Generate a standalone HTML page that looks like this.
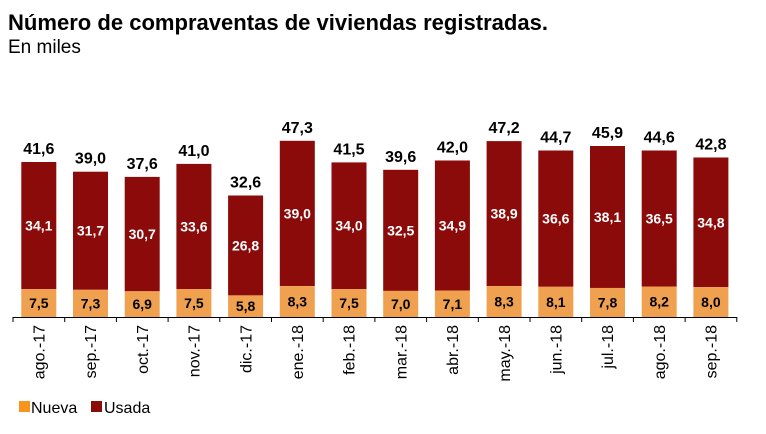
<!DOCTYPE html>
<html><head><meta charset="utf-8"><style>
body{margin:0;background:#fff;width:766px;height:429px;overflow:hidden;font-family:"Liberation Sans",sans-serif;}
</style></head><body>
<svg width="766" height="429" xmlns="http://www.w3.org/2000/svg" font-family="Liberation Sans, sans-serif">
<text x="8" y="30" font-size="22" font-weight="bold" fill="#000" textLength="540" lengthAdjust="spacingAndGlyphs">Número de compraventas de viviendas registradas.</text>
<text x="8" y="53" font-size="19" fill="#000">En miles</text>
<g fill="#8B0A0A">
<rect x="21.3" y="162" width="35" height="127"/>
<rect x="73" y="171.7" width="35" height="118.1"/>
<rect x="124.7" y="176.9" width="35" height="114.4"/>
<rect x="176.4" y="163.9" width="35" height="125.2"/>
<rect x="228.1" y="195.5" width="35" height="99.9"/>
<rect x="279.8" y="140.8" width="35" height="145.3"/>
<rect x="331.5" y="162.4" width="35" height="126.7"/>
<rect x="383.2" y="169.8" width="35" height="121.1"/>
<rect x="434.9" y="160.5" width="35" height="130"/>
<rect x="486.6" y="141.1" width="35" height="145"/>
<rect x="538.3" y="150.5" width="35" height="136.3"/>
<rect x="590" y="146" width="35" height="142"/>
<rect x="641.7" y="150.5" width="35" height="136"/>
<rect x="693.4" y="157.5" width="35" height="129.7"/>
</g>
<g fill="#F0A150">
<rect x="21.3" y="289" width="35" height="28"/>
<rect x="73" y="289.8" width="35" height="27.2"/>
<rect x="124.7" y="291.3" width="35" height="25.7"/>
<rect x="176.4" y="289" width="35" height="28"/>
<rect x="228.1" y="295.4" width="35" height="21.6"/>
<rect x="279.8" y="286.1" width="35" height="30.9"/>
<rect x="331.5" y="289" width="35" height="28"/>
<rect x="383.2" y="290.9" width="35" height="26.1"/>
<rect x="434.9" y="290.5" width="35" height="26.5"/>
<rect x="486.6" y="286.1" width="35" height="30.9"/>
<rect x="538.3" y="286.8" width="35" height="30.2"/>
<rect x="590" y="287.9" width="35" height="29.1"/>
<rect x="641.7" y="286.5" width="35" height="30.5"/>
<rect x="693.4" y="287.2" width="35" height="29.8"/>
</g>
<g font-size="16" font-weight="bold" text-anchor="middle" fill="#000">
<text x="38.8" y="154">41,6</text>
<text x="90.5" y="163.7">39,0</text>
<text x="142.2" y="168.9">37,6</text>
<text x="193.9" y="155.9">41,0</text>
<text x="245.6" y="187.5">32,6</text>
<text x="297.3" y="132.8">47,3</text>
<text x="349" y="154.4">41,5</text>
<text x="400.7" y="161.8">39,6</text>
<text x="452.4" y="152.5">42,0</text>
<text x="504.1" y="133.1">47,2</text>
<text x="555.8" y="142.5">44,7</text>
<text x="607.5" y="138">45,9</text>
<text x="659.2" y="142.5">44,6</text>
<text x="710.9" y="149.5">42,8</text>
</g>
<g font-size="14" font-weight="bold" text-anchor="middle" fill="#fff">
<text x="38.8" y="230.5">34,1</text>
<text x="90.5" y="235.7">31,7</text>
<text x="142.2" y="239.1">30,7</text>
<text x="193.9" y="231.5">33,6</text>
<text x="245.6" y="250.5">26,8</text>
<text x="297.3" y="218.4">39,0</text>
<text x="349" y="230.7">34,0</text>
<text x="400.7" y="235.4">32,5</text>
<text x="452.4" y="230.5">34,9</text>
<text x="504.1" y="218.6">38,9</text>
<text x="555.8" y="223.6">36,6</text>
<text x="607.5" y="222">38,1</text>
<text x="659.2" y="223.5">36,5</text>
<text x="710.9" y="227.4">34,8</text>
</g>
<g font-size="14" font-weight="bold" text-anchor="middle" fill="#000">
<text x="38.8" y="308">7,5</text>
<text x="90.5" y="308.4">7,3</text>
<text x="142.2" y="309.1">6,9</text>
<text x="193.9" y="308">7,5</text>
<text x="245.6" y="311.2">5,8</text>
<text x="297.3" y="306.5">8,3</text>
<text x="349" y="308">7,5</text>
<text x="400.7" y="309">7,0</text>
<text x="452.4" y="308.8">7,1</text>
<text x="504.1" y="306.5">8,3</text>
<text x="555.8" y="306.9">8,1</text>
<text x="607.5" y="307.5">7,8</text>
<text x="659.2" y="306.7">8,2</text>
<text x="710.9" y="307.1">8,0</text>
</g>
<line x1="13" y1="317.5" x2="737" y2="317.5" stroke="#000" stroke-width="1"/>
<g stroke="#000">
<line x1="13" y1="317" x2="13" y2="322"/><line x1="64.7" y1="317" x2="64.7" y2="322"/><line x1="116.4" y1="317" x2="116.4" y2="322"/><line x1="168.1" y1="317" x2="168.1" y2="322"/><line x1="219.8" y1="317" x2="219.8" y2="322"/><line x1="271.5" y1="317" x2="271.5" y2="322"/><line x1="323.2" y1="317" x2="323.2" y2="322"/><line x1="374.9" y1="317" x2="374.9" y2="322"/><line x1="426.6" y1="317" x2="426.6" y2="322"/><line x1="478.3" y1="317" x2="478.3" y2="322"/><line x1="530" y1="317" x2="530" y2="322"/><line x1="581.7" y1="317" x2="581.7" y2="322"/><line x1="633.4" y1="317" x2="633.4" y2="322"/><line x1="685.1" y1="317" x2="685.1" y2="322"/><line x1="736.8" y1="317" x2="736.8" y2="322"/>
</g>
<g font-size="16" text-anchor="end" fill="#000">
<text transform="translate(44.5,325) rotate(-90)">ago.-17</text>
<text transform="translate(96.2,325) rotate(-90)">sep.-17</text>
<text transform="translate(147.9,325) rotate(-90)">oct.-17</text>
<text transform="translate(199.6,325) rotate(-90)">nov.-17</text>
<text transform="translate(251.3,325) rotate(-90)">dic.-17</text>
<text transform="translate(303,325) rotate(-90)">ene.-18</text>
<text transform="translate(354.7,325) rotate(-90)">feb.-18</text>
<text transform="translate(406.4,325) rotate(-90)">mar.-18</text>
<text transform="translate(458.1,325) rotate(-90)">abr.-18</text>
<text transform="translate(509.8,325) rotate(-90)">may.-18</text>
<text transform="translate(561.5,325) rotate(-90)">jun.-18</text>
<text transform="translate(613.2,325) rotate(-90)">jul.-18</text>
<text transform="translate(664.9,325) rotate(-90)">ago.-18</text>
<text transform="translate(716.6,325) rotate(-90)">sep.-18</text>
</g>
<rect x="19" y="401" width="11" height="11" fill="#F7941D"/>
<text x="31" y="413" font-size="16">Nueva</text>
<rect x="91" y="401" width="11" height="11" fill="#8B0A0A"/>
<text x="104" y="413" font-size="16">Usada</text>
</svg>
</body></html>
